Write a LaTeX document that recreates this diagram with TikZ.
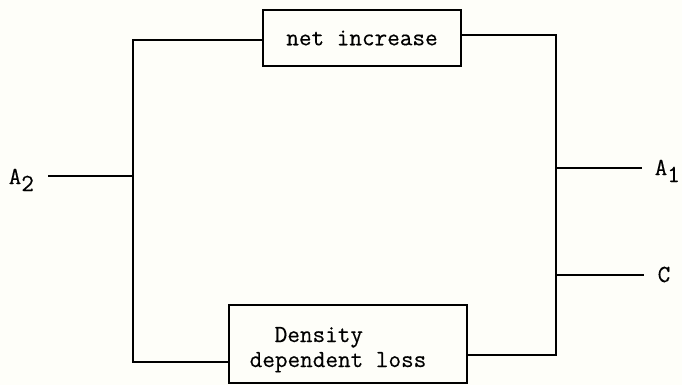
\documentclass[tikz,border=0pt]{standalone}
\usepackage{fontspec}
\setmonofont{Latin Modern Mono}[FakeBold=0.4]
\definecolor{paper}{RGB}{254,254,249}
\begin{document}
\begin{tikzpicture}[x=1pt,y=-1pt,
  line width=1.4pt,
  every node/.style={font=\ttfamily\fontsize{24.5}{26}\selectfont},
  boxnode/.style={draw, inner sep=0pt},
  txt/.style={anchor=base west, inner sep=0pt}]
\fill[paper] (0,0) rectangle (682,385);
\useasboundingbox (0,0) rectangle (682,385);
% boxes
\node[boxnode, minimum width=198pt, minimum height=56pt] (top) at (362,38) {net increase};
\node[boxnode, minimum width=238pt, minimum height=78pt] (dl) at (348,344) {};
\node[txt] (dl1) at (274,342) {Density};
\node[txt] (dl2) at (249,367) {dependent loss};
% junction coordinates
\coordinate (lt) at (133,40);
\coordinate (lb) at (133,362);
\coordinate (la) at (133,176);
\coordinate (rt) at (556,35);
\coordinate (rb) at (556,355);
\coordinate (ra) at (556,168);
\coordinate (rc) at (556,275);
\coordinate (a2end) at (48,176);
\coordinate (a1end) at (642,168);
\coordinate (cend) at (644,275);
% labels
\node[txt] (a2) at (8,184) {A\raisebox{-7pt}{2}};
\node[txt] (a1) at (654,175) {A\raisebox{-7pt}{1}};
\node[txt] (c) at (657,282) {C};
% connectors
\draw (top.west |- lt) -- (lt) -- (lb) -- (lb -| dl.west);
\draw (top.east |- rt) -- (rt) -- (rb) -- (rb -| dl.east);
\draw (a2end) -- (la);
\draw (ra) -- (a1end);
\draw (rc) -- (cend);
\end{tikzpicture}
\end{document}
